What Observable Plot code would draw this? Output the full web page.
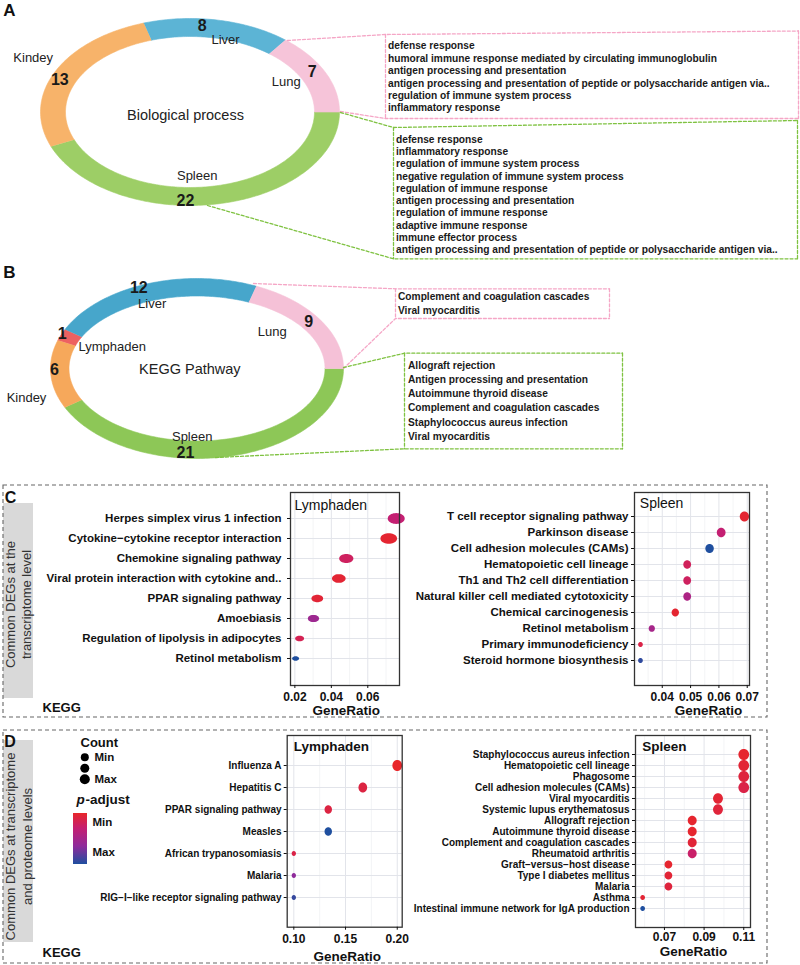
<!DOCTYPE html>
<html>
<head>
<meta charset="utf-8">
<script src="https://cdn.jsdelivr.net/npm/d3@7"></script>
<script src="https://cdn.jsdelivr.net/npm/@observablehq/plot@0.6"></script>
<style>
  html, body { margin: 0; padding: 0; background: #fff; }
  #page { position: relative; width: 800px; height: 965px; background: #fff; overflow: hidden; }
  #page svg { position: absolute; left: 0; top: 0; }
  #grad { position: absolute; left: 72.7px; top: 813.3px; width: 14px; height: 50.7px;
          background: linear-gradient(to bottom, #e8262a 0%, #c41f72 30%, #8f2b9b 65%, #1f4f9f 100%); }
</style>
</head>
<body>
<div id="page"><div id="grad"></div></div>
<script>
// ---------------- DATA ----------------
// Panel A: Biological process (ring order clockwise from 3 o'clock)
const tissuesA = ["Spleen", "Kindey", "Liver", "Lung"];
const countsA = [22, 13, 8, 7];
const aLungTerms = [
  "defense response",
  "humoral immune response mediated by circulating immunoglobulin",
  "antigen processing and presentation",
  "antigen processing and presentation of peptide or polysaccharide antigen via..",
  "regulation of immune system process",
  "inflammatory response"
];
const aSpleenTerms = [
  "defense response",
  "inflammatory response",
  "regulation of immune system process",
  "negative regulation of immune system process",
  "regulation of immune response",
  "antigen processing and presentation",
  "regulation of immune response",
  "adaptive immune response",
  "immune effector process",
  "antigen processing and presentation of peptide or polysaccharide antigen via.."
];
// Panel B: KEGG pathway
const tissuesB = ["Spleen", "Kindey", "Lymphaden", "Liver", "Lung"];
const countsB = [21, 6, 1, 12, 9];
const bLungTerms = ["Complement and coagulation cascades", "Viral myocarditis"];
const bSpleenTerms = [
  "Allograft rejection",
  "Antigen processing and presentation",
  "Autoimmune thyroid disease",
  "Complement and coagulation cascades",
  "Staphylococcus aureus infection",
  "Viral myocarditis"
];
// Panel C left: Lymphaden (transcriptome)
const cLymphTerms = [
  "Herpes simplex virus 1 infection",
  "Cytokine\u2212cytokine receptor interaction",
  "Chemokine signaling pathway",
  "Viral protein interaction with cytokine and..",
  "PPAR signaling pathway",
  "Amoebiasis",
  "Regulation of lipolysis in adipocytes",
  "Retinol metabolism"
];
const cLymphRatio = [0.0756, 0.0715, 0.0482, 0.0441, 0.0323, 0.0302, 0.0226, 0.0204];
const cLymphCount = [37, 35, 24, 22, 16, 15, 11, 10];
const cLymphPadj  = [0.30, 0.03, 0.22, 0.04, 0.05, 0.56, 0.17, 1.00];
const cLymphTicks = [0.02, 0.04, 0.06];
const cLymphMinor = [0.03, 0.05, 0.07];
// Panel C right: Spleen (transcriptome)
const cSpleenTerms = [
  "T cell receptor signaling pathway",
  "Parkinson disease",
  "Cell adhesion molecules (CAMs)",
  "Hematopoietic cell lineage",
  "Th1 and Th2 cell differentiation",
  "Natural killer cell mediated cytotoxicity",
  "Chemical carcinogenesis",
  "Retinol metabolism",
  "Primary immunodeficiency",
  "Steroid hormone biosynthesis"
];
const cSpleenRatio = [0.0690, 0.0608, 0.0567, 0.0488, 0.0488, 0.0488, 0.0446, 0.0363, 0.0323, 0.0323];
const cSpleenCount = [17, 15, 14, 12, 12, 12, 11, 9, 8, 8];
const cSpleenPadj  = [0.03, 0.30, 1.00, 0.20, 0.22, 0.45, 0.03, 0.50, 0.12, 0.95];
const cSpleenTicks = [0.04, 0.05, 0.06, 0.07];
const cSpleenMinor = [0.035, 0.045, 0.055, 0.065];
// Panel D left: Lymphaden (transcriptome + proteome)
const dLymphTerms = [
  "Influenza A",
  "Hepatitis C",
  "PPAR signaling pathway",
  "Measles",
  "African trypanosomiasis",
  "Malaria",
  "RIG\u2212I\u2212like receptor signaling pathway"
];
const dLymphRatio = [0.200, 0.1667, 0.1333, 0.1333, 0.100, 0.100, 0.100];
const dLymphCount = [6, 5, 4, 4, 3, 3, 3];
const dLymphPadj  = [0.00, 0.10, 0.10, 1.00, 0.12, 0.65, 0.93];
const dLymphTicks = [0.10, 0.15, 0.20];
const dLymphMinor = [0.125, 0.175];
// Panel D right: Spleen (transcriptome + proteome)
const dSpleenTerms = [
  "Staphylococcus aureus infection",
  "Hematopoietic cell lineage",
  "Phagosome",
  "Cell adhesion molecules (CAMs)",
  "Viral myocarditis",
  "Systemic lupus erythematosus",
  "Allograft rejection",
  "Autoimmune thyroid disease",
  "Complement and coagulation cascades",
  "Rheumatoid arthritis",
  "Graft\u2212versus\u2212host disease",
  "Type I diabetes mellitus",
  "Malaria",
  "Asthma",
  "Intestinal immune network for IgA production"
];
const dSpleenRatio = [0.110, 0.110, 0.110, 0.110, 0.097, 0.097, 0.084, 0.084, 0.084, 0.084, 0.072, 0.072, 0.072, 0.059, 0.059];
const dSpleenCount = [9, 9, 9, 9, 8, 8, 7, 7, 7, 7, 6, 6, 6, 5, 5];
const dSpleenPadj  = [0.02, 0.05, 0.08, 0.12, 0.04, 0.07, 0.02, 0.02, 0.06, 0.26, 0.02, 0.05, 0.08, 0.04, 1.00];
const dSpleenTicks = [0.07, 0.09, 0.11];
const dSpleenMinor = [0.06, 0.08, 0.10];

// ---------------- STYLE / LAYOUT ----------------
const FONT = '"Liberation Sans", Arial, Helvetica, sans-serif';
const PADJ_STOPS = [0, 0.3, 0.65, 1];
const PADJ_COLORS = ["#e8262a", "#c41f72", "#8f2b9b", "#1f4f9f"];
const ringColorsA = {Spleen: "#9dce66", Kindey: "#f7b36a", Liver: "#5cb4d5", Lung: "#f6c4d9"};
const ringColorsB = {Spleen: "#8dc757", Kindey: "#f6a85b", Lymphaden: "#ed6161", Liver: "#47a6cb", Lung: "#f5c1d7"};
const geomA = {cx: 189.5, cy: 111.5, rx: 149.5, ry: 93.5, irx: 124.5, iry: 75.5};
const geomB = {cx: 196.5, cy: 368, rx: 146.5, ry: 90, irx: 128, iry: 72.5};
const numPosA = {Liver: [201.7, 25], Kindey: [59.3, 79.3], Lung: [311.7, 71], Spleen: [185, 200]};
const namePosA = {Liver: [225, 39.3], Kindey: [32.7, 57.3], Lung: [285.7, 81.7], Spleen: [196.7, 175]};
const numPosB = {Liver: [138.3, 287.3], Lung: [308.3, 321], Lymphaden: [61.7, 333.3], Kindey: [54, 369.3], Spleen: [185, 452]};
const namePosB = {Liver: [151.7, 303.3], Lung: [271.7, 331.7], Lymphaden: [111.7, 346], Kindey: [26, 397.3], Spleen: [191.7, 436.7]};
const PINK = "#f5a6c6", GREEN = "#7fc241";

const page = document.getElementById("page");

function ringSegments(tissues, counts, g) {
  const total = d3.sum(counts);
  let a0 = 0;
  return tissues.map((t, i) => {
    const a1 = a0 + counts[i] / total * 2 * Math.PI;
    const n = Math.max(2, Math.ceil((a1 - a0) / (Math.PI / 180)));
    const pts = [];
    for (let k = 0; k <= n; k++) {
      const a = a0 + (a1 - a0) * k / n;
      pts.push({x: g.cx + g.rx * Math.cos(a), y: g.cy + g.ry * Math.sin(a)});
    }
    for (let k = n; k >= 0; k--) {
      const a = a0 + (a1 - a0) * k / n;
      pts.push({x: g.cx + g.irx * Math.cos(a), y: g.cy + g.iry * Math.sin(a)});
    }
    a0 = a1;
    return {tissue: t, count: counts[i], pts};
  });
}

const txt = (s, x, y, o = {}) => Plot.text([s], {x: () => x, y: () => y, text: d => d, ...o});
const poly = (pts, o = {}) => Plot.line(pts, {x: d => d[0], y: d => d[1], ...o});
const box = (x1, y1, x2, y2, o = {}) => Plot.rect([{x1, y1, x2, y2}], {x1: "x1", y1: "y1", x2: "x2", y2: "y2", ...o});

function ringMarks(tissues, counts, g, colors, numPos, namePos) {
  const segs = ringSegments(tissues, counts, g);
  const marks = segs.map(s => Plot.line(s.pts, {x: "x", y: "y", fill: colors[s.tissue], stroke: colors[s.tissue], strokeWidth: 0.6}));
  const rows = tissues.map((t, i) => ({t, c: counts[i]}));
  marks.push(Plot.text(rows, {x: d => namePos[d.t][0], y: d => namePos[d.t][1], text: d => d.t, fontSize: 13, fill: "#222"}));
  marks.push(Plot.text(rows, {x: d => numPos[d.t][0], y: d => numPos[d.t][1], text: d => String(d.c), fontSize: 16, fontWeight: "bold", fill: "#1a1a1a"}));
  return marks;
}

function termMarks(terms, x, y0, dy, size) {
  return Plot.text(terms, {x: () => x, y: (d, i) => y0 + i * dy, text: d => d, textAnchor: "start",
    fontSize: size, fontWeight: "bold", fill: "#1a1a1a"});
}

// ---------------- LAYOUT PLOT (panels A, B, frames, legend) ----------------
const dashT = {strokeDasharray: "3,2", strokeWidth: 1.3, fill: "none"};
const layoutMarks = [
  box(3, 503, 33, 698, {fill: "#d9d9d9"}),
  box(3, 740, 33, 942, {fill: "#d9d9d9"}),
  box(3, 485, 767, 717, {fill: "none", stroke: "#666", strokeDasharray: "4,3", strokeWidth: 1.1}),
  box(3, 730, 767, 963, {fill: "none", stroke: "#666", strokeDasharray: "4,3", strokeWidth: 1.1}),
  ...ringMarks(tissuesA, countsA, geomA, ringColorsA, numPosA, namePosA),
  ...ringMarks(tissuesB, countsB, geomB, ringColorsB, numPosB, namePosB),
  txt("Biological process", 185, 115, {fontSize: 14.5, fill: "#222"}),
  txt("KEGG Pathway", 189.3, 369.3, {fontSize: 14.5, fill: "#222"}),
  poly([[287, 40], [385, 34], [798, 30.5]], {stroke: PINK, ...dashT}),
  poly([[340, 111], [385, 118], [798, 118]], {stroke: PINK, ...dashT}),
  poly([[385, 34], [385, 118]], {stroke: PINK, ...dashT}),
  poly([[798, 30.5], [798, 118]], {stroke: PINK, ...dashT}),
  poly([[340, 112], [393, 127], [797, 120]], {stroke: GREEN, ...dashT}),
  poly([[207, 205], [393, 258.3], [797, 258.3]], {stroke: GREEN, ...dashT}),
  poly([[393, 127], [393, 258.3]], {stroke: GREEN, ...dashT}),
  poly([[797, 120], [797, 258.3]], {stroke: GREEN, ...dashT}),
  poly([[253, 283], [395, 288.3], [609, 288.3]], {stroke: PINK, ...dashT}),
  poly([[343, 368], [395, 318], [609, 318]], {stroke: PINK, ...dashT}),
  poly([[395, 288.3], [395, 318]], {stroke: PINK, ...dashT}),
  poly([[609, 288.3], [609, 318]], {stroke: PINK, ...dashT}),
  poly([[343, 367], [404, 352.7], [622, 352.7]], {stroke: GREEN, ...dashT}),
  poly([[215, 457], [404, 448.3], [622, 448.3]], {stroke: GREEN, ...dashT}),
  poly([[404, 352.7], [404, 448.3]], {stroke: GREEN, ...dashT}),
  poly([[622, 352.7], [622, 448.3]], {stroke: GREEN, ...dashT}),
  termMarks(aLungTerms, 387.5, 45.7, 12.4, 10.2),
  termMarks(aSpleenTerms, 395.5, 139, 12.27, 10.2),
  termMarks(bLungTerms, 397.5, 296, 14.3, 10.2),
  termMarks(bSpleenTerms, 407.5, 365, 14.2, 10.2),
  txt("A", 9, 10, {fontSize: 17, fontWeight: "bold", fill: "#111"}),
  txt("B", 9, 272, {fontSize: 17, fontWeight: "bold", fill: "#111"}),
  txt("C", 10, 497, {fontSize: 16, fontWeight: "bold", fill: "#111"}),
  txt("D", 9.5, 741, {fontSize: 16, fontWeight: "bold", fill: "#111"}),
  txt("Common DEGs at the\ntranscriptome level", 17.5, 604, {rotate: -90, fontSize: 13, lineHeight: 1.2, fill: "#333"}),
  txt("Common DEGs at transcriptome\nand proteome levels", 17.5, 846, {rotate: -90, fontSize: 13, lineHeight: 1.28, fill: "#333"}),
  txt("KEGG", 42, 707, {textAnchor: "start", fontSize: 13, fontWeight: "bold", fill: "#111"}),
  txt("KEGG", 42, 952, {textAnchor: "start", fontSize: 13, fontWeight: "bold", fill: "#111"}),
  txt("GeneRatio", 345.8, 710.5, {fontSize: 13.5, fontWeight: "bold", fill: "#111"}),
  txt("GeneRatio", 708, 710.5, {fontSize: 13.5, fontWeight: "bold", fill: "#111"}),
  txt("GeneRatio", 346.7, 956, {fontSize: 13.5, fontWeight: "bold", fill: "#111"}),
  txt("GeneRatio", 693, 951.5, {fontSize: 13.5, fontWeight: "bold", fill: "#111"}),
  txt("Count", 80, 742, {textAnchor: "start", fontSize: 13, fontWeight: "bold", fill: "#111"}),
  Plot.dot([0], {x: () => 84.3, y: () => 756.7, r: 4, fill: "#000"}),
  Plot.dot([0], {x: () => 84.3, y: () => 767.7, r: 4.5, fill: "#000"}),
  Plot.dot([0], {x: () => 84.3, y: () => 778.7, r: 5, fill: "#000"}),
  txt("Min", 94, 756.7, {textAnchor: "start", fontSize: 11.5, fontWeight: "bold", fill: "#111"}),
  txt("Max", 94, 778.7, {textAnchor: "start", fontSize: 11.5, fontWeight: "bold", fill: "#111"}),
  txt("p", 76, 799, {textAnchor: "start", fontSize: 13.5, fontWeight: "bold", fontStyle: "italic", fill: "#111"}),
  txt("-adjust", 85, 799, {textAnchor: "start", fontSize: 13.5, fontWeight: "bold", fill: "#111"}),
  txt("Min", 92, 821.7, {textAnchor: "start", fontSize: 11.5, fontWeight: "bold", fill: "#111"}),
  txt("Max", 92, 852, {textAnchor: "start", fontSize: 11.5, fontWeight: "bold", fill: "#111"})
];

const layout = Plot.plot({
  width: 800, height: 965, margin: 0,
  x: {domain: [0, 800], range: [0, 800], axis: null},
  y: {domain: [0, 965], range: [0, 965], axis: null},
  style: {background: "transparent", fontFamily: FONT, overflow: "visible"},
  marks: layoutMarks
});
page.appendChild(layout);

// ---------------- DOT PLOTS ----------------
function ellipseSymbol(aspect) {
  return {
    draw(ctx, size) {
      const r = Math.sqrt(size / Math.PI);
      const n = 40;
      for (let i = 0; i < n; i++) {
        const a = 2 * Math.PI * i / n;
        const x = r * Math.cos(a), y = r * aspect * Math.sin(a);
        if (i === 0) ctx.moveTo(x, y); else ctx.lineTo(x, y);
      }
      ctx.closePath();
    }
  };
}

function dotPlot(cfg) {
  const data = cfg.terms.map((t, i) => ({term: t, ratio: cfg.ratio[i], count: cfg.count[i], padj: cfg.padj[i]}));
  const cmin = d3.min(cfg.count), cmax = d3.max(cfg.count);
  const sizeT = c => Math.sqrt((c - cmin) / (cmax - cmin));
  const [fx0, fx1, fy0, fy1] = cfg.frame;
  return Plot.plot({
    width: 800, height: 965,
    marginLeft: fx0, marginRight: 800 - fx1, marginTop: fy0, marginBottom: 965 - fy1,
    style: {background: "transparent", fontFamily: FONT, fontWeight: "bold", color: "#111", overflow: "visible"},
    x: {domain: cfg.xDomain},
    y: {type: "point", domain: cfg.terms, range: cfg.rows},
    r: {type: "linear", domain: [0, 1], range: cfg.rRange},
    color: {type: "linear", domain: PADJ_STOPS, range: PADJ_COLORS, interpolate: "rgb"},
    marks: [
      Plot.ruleX(cfg.minor, {stroke: "#f0f1f4", strokeWidth: 0.8}),
      Plot.ruleX(cfg.ticks, {stroke: "#e2e4ea", strokeWidth: 1}),
      Plot.ruleY(cfg.terms, {stroke: "#e2e4ea", strokeWidth: 1}),
      Plot.dot(data, {x: "ratio", y: "term", r: d => sizeT(d.count), fill: "padj",
        symbol: ellipseSymbol(cfg.aspect), stroke: "none"}),
      Plot.frame({stroke: "#333", strokeWidth: 1.3}),
      Plot.axisX({ticks: cfg.ticks, tickFormat: d3.format(".2f"), tickSize: 3, tickPadding: cfg.xpad,
        fontSize: 12, fontWeight: "bold", label: null}),
      Plot.axisY({tickSize: 3, tickPadding: cfg.ypad, fontSize: cfg.yFont, fontWeight: "bold", label: null}),
      Plot.text([cfg.name], {frameAnchor: "top-left", textAnchor: "start", lineAnchor: "middle",
        dx: cfg.nameDx, dy: cfg.nameDy, fontSize: cfg.nameSize, fontWeight: cfg.nameWeight, fill: "#111"})
    ]
  });
}

const plots = [
  {name: "Lymphaden", terms: cLymphTerms, ratio: cLymphRatio, count: cLymphCount, padj: cLymphPadj,
   ticks: cLymphTicks, minor: cLymphMinor, frame: [290, 399, 492, 685], xDomain: [0.0176, 0.0774],
   rows: [506.3, 670], rRange: [3.5, 8.5], aspect: 0.64, ypad: 6, xpad: 4, yFont: 11.5,
   nameDx: 4, nameDy: 12.7, nameSize: 14, nameWeight: "normal"},
  {name: "Spleen", terms: cSpleenTerms, ratio: cSpleenRatio, count: cSpleenCount, padj: cSpleenPadj,
   ticks: cSpleenTicks, minor: cSpleenMinor, frame: [634, 749, 492, 685], xDomain: [0.0302, 0.0708],
   rows: [503, 672], rRange: [2.35, 4.65], aspect: 1.08, ypad: 3, xpad: 4, yFont: 11.5,
   nameDx: 5.3, nameDy: 11, nameSize: 14, nameWeight: "normal"},
  {name: "Lymphaden", terms: dLymphTerms, ratio: dLymphRatio, count: dLymphCount, padj: dLymphPadj,
   ticks: dLymphTicks, minor: dLymphMinor, frame: [286.7, 401.7, 735, 926.7], xDomain: [0.0936, 0.2048],
   rows: [750.7, 910.7], rRange: [2.15, 4.85], aspect: 1.15, ypad: 2.7, xpad: 4.5, yFont: 10,
   nameDx: 6.6, nameDy: 11, nameSize: 13.5, nameWeight: "bold"},
  {name: "Spleen", terms: dSpleenTerms, ratio: dSpleenRatio, count: dSpleenCount, padj: dSpleenPadj,
   ticks: dSpleenTicks, minor: dSpleenMinor, frame: [635, 750, 735, 927], xDomain: [0.0554, 0.1134],
   rows: [743, 919.7], rRange: [2.35, 5.35], aspect: 1.05, ypad: 3, xpad: 2, yFont: 10,
   nameDx: 6.7, nameDy: 11.3, nameSize: 13.5, nameWeight: "bold"}
];
plots.forEach(cfg => page.appendChild(dotPlot(cfg)));
</script>
</body>
</html>
